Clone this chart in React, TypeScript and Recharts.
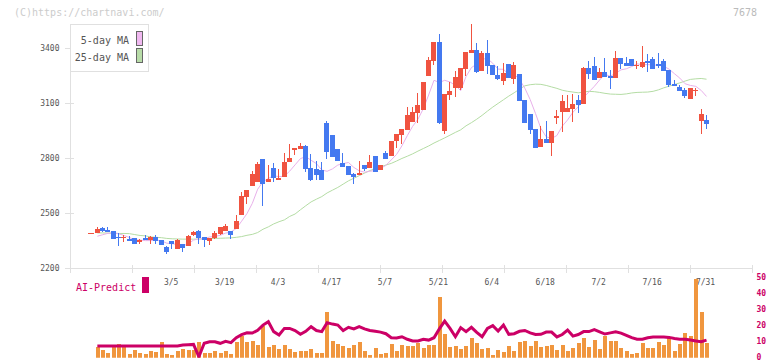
import React from 'react';
import { ComposedChart, Bar, Line, XAxis, YAxis } from 'recharts';

// ---- data (one entry per trading day, index 0..115) ----
const opens = [
  2396, 2394, 2421, 2409, 2403, 2372, 2369, 2360, 2369, 2343,
  2364, 2353, 2371, 2354, 2316, 2349, 2305, 2336, 2323, 2382,
  2403, 2372, 2351, 2364, 2389, 2405, 2403, 2414, 2491, 2591,
  2651, 2671, 2796, 2672, 2747, 2683, 2700, 2780, 2845, 2852,
  2869, 2749, 2741, 2738, 2994, 2927, 2849, 2773, 2758, 2716,
  2711, 2763, 2747, 2812, 2736, 2829, 2811, 2894, 2927, 2954,
  2998, 3047, 3063, 3249, 3332, 3434, 2947, 3145, 3183, 3183,
  3287, 3374, 3391, 3276, 3374, 3309, 3254, 3221, 3314, 3232,
  3260, 3118, 3042, 2960, 2862, 2905, 2883, 3020, 3053, 3053,
  3069, 3118, 3096, 3292, 3303, 3238, 3271, 3249, 3238, 3347,
  3320, 3342, 3309, 3298, 3331, 3342, 3314, 3331, 3282, 3205,
  3189, 3172, 3123, 3167, 3003, 3009,
];
const highs = [
  2396, 2425, 2427, 2425, 2403, 2391, 2385, 2376, 2369, 2361,
  2382, 2376, 2382, 2354, 2325, 2349, 2360, 2336, 2382, 2403,
  2409, 2372, 2365, 2405, 2425, 2440, 2403, 2489, 2618, 2627,
  2731, 2781, 2796, 2764, 2776, 2740, 2827, 2878, 2856, 2885,
  2873, 2822, 2785, 2778, 3005, 2927, 2851, 2827, 2758, 2721,
  2785, 2763, 2818, 2812, 2763, 2840, 2894, 2932, 2960, 3080,
  3080, 3156, 3216, 3354, 3434, 3478, 3151, 3216, 3276, 3292,
  3380, 3532, 3429, 3385, 3445, 3309, 3303, 3320, 3314, 3325,
  3260, 3118, 3042, 2960, 2976, 3003, 2949, 3063, 3145, 3145,
  3151, 3145, 3298, 3331, 3352, 3292, 3347, 3282, 3385, 3347,
  3352, 3342, 3331, 3413, 3369, 3352, 3374, 3342, 3282, 3227,
  3200, 3183, 3183, 3183, 3069, 3036,
];
const lows = [
  2396, 2394, 2400, 2398, 2361, 2323, 2345, 2349, 2334, 2334,
  2353, 2336, 2336, 2327, 2278, 2305, 2305, 2289, 2323, 2376,
  2336, 2318, 2327, 2361, 2383, 2405, 2361, 2414, 2491, 2549,
  2651, 2671, 2541, 2672, 2672, 2683, 2700, 2780, 2818, 2852,
  2725, 2678, 2685, 2681, 2796, 2809, 2785, 2753, 2709, 2660,
  2711, 2732, 2747, 2727, 2736, 2796, 2811, 2856, 2878, 2954,
  2998, 2993, 3063, 3249, 3311, 2987, 2932, 3118, 3134, 3172,
  3249, 3374, 3267, 3276, 3260, 3254, 3227, 3200, 3238, 3205,
  3112, 2993, 2932, 2856, 2862, 2883, 2812, 2987, 2943, 3053,
  2998, 3047, 3096, 3232, 3227, 3238, 3243, 3178, 3238, 3287,
  3303, 3303, 3287, 3292, 3271, 3287, 3292, 3276, 3189, 3194,
  3167, 3129, 3123, 3140, 2932, 2960,
];
const closes = [
  2396, 2414, 2405, 2398, 2361, 2367, 2370, 2349, 2334, 2354,
  2353, 2372, 2351, 2327, 2289, 2334, 2356, 2312, 2376, 2398,
  2367, 2354, 2365, 2392, 2425, 2431, 2383, 2458, 2594, 2627,
  2713, 2769, 2661, 2687, 2694, 2692, 2780, 2802, 2856, 2867,
  2743, 2681, 2711, 2681, 2834, 2809, 2785, 2753, 2709, 2700,
  2720, 2742, 2780, 2727, 2763, 2796, 2894, 2932, 2960, 3036,
  3053, 3091, 3216, 3336, 3434, 2993, 3151, 3169, 3243, 3292,
  3380, 3391, 3271, 3374, 3303, 3254, 3232, 3265, 3238, 3309,
  3112, 2993, 2954, 2856, 2905, 2883, 2949, 3031, 3112, 3074,
  3096, 3091, 3292, 3260, 3227, 3271, 3243, 3238, 3347, 3314,
  3303, 3303, 3311, 3325, 3320, 3287, 3303, 3276, 3200, 3194,
  3167, 3140, 3183, 3172, 3042, 2987,
];
const ma5 = [
  null, 2376, 2384, 2392, 2395, 2389, 2380, 2369, 2356, 2355,
  2352, 2352, 2353, 2351, 2338, 2335, 2331, 2324, 2333, 2355,
  2362, 2361, 2372, 2375, 2381, 2393, 2399, 2418, 2458, 2499,
  2555, 2632, 2673, 2691, 2705, 2701, 2703, 2731, 2765, 2799,
  2810, 2790, 2772, 2737, 2730, 2743, 2764, 2772, 2778, 2751,
  2733, 2725, 2730, 2734, 2746, 2762, 2792, 2822, 2869, 2924,
  2975, 3014, 3071, 3146, 3226, 3214, 3226, 3217, 3198, 3170,
  3247, 3295, 3315, 3342, 3344, 3319, 3287, 3286, 3258, 3260,
  3231, 3183, 3121, 3045, 2964, 2918, 2909, 2925, 2976, 3010,
  3052, 3081, 3133, 3163, 3193, 3228, 3259, 3248, 3265, 3283,
  3289, 3301, 3316, 3311, 3312, 3309, 3309, 3302, 3287, 3262,
  3238, 3207, 3198, 3193, 3171, 3138,
];
const ma25 = [
  null, 2394, 2394, 2393, 2392, 2391, 2391, 2390, 2385, 2380,
  2378, 2372, 2370, 2368, 2364, 2362, 2361, 2360, 2360, 2360,
  2361, 2361, 2363, 2364, 2365, 2366, 2367, 2370, 2374, 2381,
  2386, 2396, 2414, 2427, 2443, 2455, 2465, 2484, 2497, 2520,
  2542, 2563, 2578, 2592, 2612, 2627, 2642, 2660, 2678, 2692,
  2706, 2720, 2734, 2744, 2754, 2764, 2773, 2786, 2800, 2812,
  2825, 2840, 2854, 2868, 2884, 2898, 2912, 2927, 2942, 2956,
  2978, 2995, 3014, 3035, 3058, 3080, 3100, 3120, 3140, 3158,
  3178, 3196, 3202, 3205, 3204, 3198, 3190, 3182, 3172, 3166,
  3162, 3158, 3162, 3166, 3164, 3160, 3155, 3151, 3150, 3149,
  3152, 3157, 3160, 3161, 3162, 3166, 3174, 3185, 3194, 3203,
  3212, 3222, 3231, 3234, 3236, 3232,
];
const volumes = [
  null, 6.7, 4.8, 3.1, 6.7, 8.5, 6.7, 2.5, 4.8, 3.1,
  2.5, 4.2, 3.5, 9.8, 2.5, 1.9, 4.2, 5.6, 4.8, 4.8,
  9.8, 3.1, 3.1, 4.2, 3.1, 4.2, 2.5, 9.8, 13.5, 9.8,
  10.4, 7.9, 19.8, 6.7, 7.9, 5.4, 7.9, 5.4, 3.5, 4.2,
  4.2, 5.4, 2.9, 2.9, 28.5, 10.4, 8.5, 7.3, 6.0, 7.9,
  9.8, 4.2, 1.7, 6.0, 2.3, 2.9, 8.5, 4.2, 7.9, 7.3,
  7.3, 9.2, 6.0, 7.9, 7.9, 37.9, 14.8, 6.7, 7.3, 5.4,
  7.3, 12.3, 9.2, 5.4, 6.0, 1.7, 4.8, 3.5, 7.3, 4.2,
  9.8, 10.4, 7.3, 10.4, 6.7, 7.3, 7.9, 4.8, 7.9, 4.2,
  6.0, 9.2, 12.3, 6.7, 11.0, 5.4, 13.5, 10.4, 10.4, 6.0,
  4.2, 2.3, 2.9, 9.2, 6.0, 6.0, 9.8, 7.9, 12.3, 4.2,
  8.5, 15.4, 13.5, 49.0, 28.5, 9.2,
];
const aiPredict = [
  null, 7.3, 7.3, 7.3, 7.3, 7.3, 7.3, 7.3, 7.3, 7.3,
  7.3, 7.3, 7.3, 7.3, 7.3, 7.3, 7.3, 7.9, 8.1, 8.3,
  0.6, 9.0, 10.0, 10.0, 9.0, 10.2, 9.4, 12.5, 14.4, 15.6,
  15.4, 17.1, 20.4, 22.5, 16.3, 14.2, 18.3, 18.3, 17.0, 14.6,
  16.5, 19.4, 17.0, 16.3, 21.9, 21.0, 20.4, 17.0, 19.0, 18.0,
  19.4, 18.0, 17.0, 16.5, 16.0, 15.0, 12.5, 12.3, 13.1, 11.5,
  10.5, 10.5, 11.5, 11.0, 12.5, 18.0, 22.9, 18.3, 13.1, 18.8,
  16.3, 19.0, 15.8, 13.1, 18.3, 20.0, 16.7, 20.4, 14.6, 15.0,
  16.5, 17.0, 15.5, 14.5, 14.6, 16.0, 16.0, 13.0, 14.5, 17.3,
  13.5, 14.5, 16.3, 16.3, 17.5, 16.2, 14.8, 15.5, 16.2, 15.4,
  14.0, 12.5, 11.5, 11.6, 12.5, 12.9, 12.9, 12.9, 12.7, 12.0,
  11.6, 11.5, 11.0, 10.5, 10.0, 11.0,
];
const dateTickIndex = [15, 25, 35, 45, 55, 65, 75, 85, 95, 105, 115];
const dateTickLabels = ['3/5', '3/19', '4/3', '4/17', '5/7', '5/21', '6/4', '6/18', '7/2', '7/16', '7/31'];
const priceTicks = [2200, 2500, 2800, 3100, 3400];
const volumeTicks = [0, 10, 20, 30, 40, 50];

// ---- styling / layout ----
const MONO = '"DejaVu Sans Mono", "Liberation Mono", monospace';
const UP = '#f05340';
const DOWN = '#4479f0';
const MA5_COLOR = '#e8b0ea';
const MA25_COLOR = '#b4dca4';
const VOL_COLOR = '#f0963e';
const AI_COLOR = '#cc0066';
const AXIS_COLOR = '#e0e0e0';
const TEXT_COLOR = '#555555';
const X_DOMAIN = [-4.117, 123.51];
const GRID_DIVISIONS = 11;
// evenly spaced axis tick marks (layout only)
const gridTickValues = Array.from({ length: GRID_DIVISIONS + 1 }, (_, k) => X_DOMAIN[0] + (k * (X_DOMAIN[1] - X_DOMAIN[0])) / GRID_DIVISIONS);
const allXTicks = [...gridTickValues, ...dateTickIndex].sort((a, b) => a - b);

const data = closes.map((c, i) => ({
  i,
  open: opens[i],
  high: highs[i],
  low: lows[i],
  close: c,
  ma5: ma5[i],
  ma25: ma25[i],
  vol: volumes[i],
  ai: aiPredict[i],
}));

const Candle = (props: any) => {
  const { x, y, width, height, payload } = props;
  if (x == null || y == null || !payload) return null;
  const { open, close, high, low } = payload;
  const color = close >= open ? UP : DOWN;
  const h = Math.abs(height || 0);
  const top = Math.min(y, y + (height || 0));
  const cx = x + width / 2;
  const bx = Math.round(cx - 2.5);
  if (high === low || h < 0.5) {
    return <rect x={bx - 1} y={Math.round(top) - 0.5} width={6} height={1} fill={color} shapeRendering="crispEdges" />;
  }
  const k = h / (high - low);
  const bTop = top + (high - Math.max(open, close)) * k;
  const bBot = top + (high - Math.min(open, close)) * k;
  return (
    <g shapeRendering="crispEdges">
      <rect x={bx + 2} y={top} width={1} height={h} fill={color} />
      <rect x={bx} y={bTop} width={5} height={Math.max(1, bBot - bTop)} fill={color} />
    </g>
  );
};

const VolBar = (props: any) => {
  const { x, y, width, height } = props;
  if (x == null || !height) return null;
  const cx = x + width / 2;
  return <rect x={Math.round(cx - 2)} y={y} width={4} height={height} fill={VOL_COLOR} shapeRendering="crispEdges" />;
};

const PriceTick = (props: any) => {
  const { x, y, payload } = props;
  return (
    <g>
      <line x1={x - 5} x2={x + 4} y1={y} y2={y} stroke={AXIS_COLOR} shapeRendering="crispEdges" />
      <text x={x - 10.5} y={y} textAnchor="end" dominantBaseline="central" fontSize={8} fontFamily={MONO} fill={TEXT_COLOR}>
        {payload.value}
      </text>
    </g>
  );
};

const XTick = (props: any) => {
  const { x, y, payload } = props;
  const idx = dateTickIndex.indexOf(payload.value);
  if (idx >= 0) {
    return (
      <text x={x - 1} y={y + 16} textAnchor="middle" fontSize={8} fontFamily={MONO} fill={TEXT_COLOR}>
        {dateTickLabels[idx]}
      </text>
    );
  }
  return <line x1={x} x2={x} y1={y - 4} y2={y + 4} stroke={AXIS_COLOR} shapeRendering="crispEdges" />;
};

const VolTick = (props: any) => {
  const { x, y, payload } = props;
  return (
    <text x={x + 4.5} y={y} textAnchor="start" dominantBaseline="central" fontSize={8} fontWeight="bold" fontFamily={MONO} fill={AI_COLOR}>
      {payload.value}
    </text>
  );
};

export default function App() {
  return (
    <div style={{ position: 'fixed', left: 0, top: 0, width: 772, height: 361, background: '#fff', overflow: 'hidden' }}>
      <div style={{ position: 'absolute', left: 0, top: 0 }}>
        <ComposedChart width={772} height={300} data={data} margin={{ top: 24, right: 20, bottom: 30.5, left: 0 }}>
          <XAxis
            dataKey="i"
            type="number"
            domain={X_DOMAIN}
            allowDataOverflow
            ticks={allXTicks}
            interval={0}
            height={1}
            axisLine={{ stroke: AXIS_COLOR, shapeRendering: 'crispEdges' }}
            tickLine={false}
            tickSize={0}
            tickMargin={0}
            tick={<XTick />}
          />
          <YAxis
            type="number"
            domain={[2200, 3533]}
            allowDataOverflow
            ticks={priceTicks}
            interval={0}
            width={70}
            axisLine={{ stroke: AXIS_COLOR, shapeRendering: 'crispEdges' }}
            tickLine={false}
            tickSize={0}
            tickMargin={0}
            tick={<PriceTick />}
          />
          <Line dataKey="ma25" stroke={MA25_COLOR} strokeWidth={1} dot={false} isAnimationActive={false} connectNulls={false} />
          <Line dataKey="ma5" stroke={MA5_COLOR} strokeWidth={1} dot={false} isAnimationActive={false} connectNulls={false} />
          <Bar
            dataKey={(d: any) => [d.low, d.high]}
            barSize={5}
            shape={<Candle />}
            isAnimationActive={false}
            zIndex={450}
          />
        </ComposedChart>
      </div>
      <div style={{ position: 'absolute', left: 0, top: 270 }}>
        <ComposedChart width={772} height={91} data={data} margin={{ top: 7.7, right: 0, bottom: 3.3, left: 70 }}>
          <XAxis dataKey="i" type="number" domain={X_DOMAIN} allowDataOverflow hide />
          <YAxis
            orientation="right"
            type="number"
            domain={[0, 50]}
            allowDataOverflow
            ticks={volumeTicks}
            interval={0}
            width={20}
            axisLine={false}
            tickLine={false}
            tickSize={0}
            tickMargin={0}
            tick={<VolTick />}
          />
          <Bar dataKey="vol" barSize={4} shape={<VolBar />} isAnimationActive={false} />
          <Line dataKey="ai" stroke={AI_COLOR} strokeWidth={3} dot={false} isAnimationActive={false} />
        </ComposedChart>
      </div>
      <svg width={772} height={361} style={{ position: 'absolute', left: 0, top: 0, pointerEvents: 'none' }}>
        <text x={14} y={16} fontSize={10} fontFamily={MONO} fill="#cccccc">(C)https://chartnavi.com/</text>
        <text x={757} y={16} fontSize={10} fontFamily={MONO} fill="#bbbbbb" textAnchor="end">7678</text>
        <rect x={70.5} y={24.5} width={78} height={47} fill="#ffffff" stroke={AXIS_COLOR} />
        <text x={129} y={43.5} fontSize={10} fontFamily={MONO} fill={TEXT_COLOR} textAnchor="end">5-day MA</text>
        <text x={129} y={60.5} fontSize={10} fontFamily={MONO} fill={TEXT_COLOR} textAnchor="end">25-day MA</text>
        <rect x={136.5} y={31.5} width={6} height={14} fill="#f0b8f0" stroke="#666666" />
        <rect x={136.5} y={48.5} width={6} height={14} fill="#b8dca8" stroke="#666666" />
        <text x={76} y={290.5} fontSize={10} fontFamily={MONO} fill={AI_COLOR}>AI-Predict</text>
        <rect x={142} y={277} width={7} height={16} fill={AI_COLOR} />
      </svg>
    </div>
  );
}
